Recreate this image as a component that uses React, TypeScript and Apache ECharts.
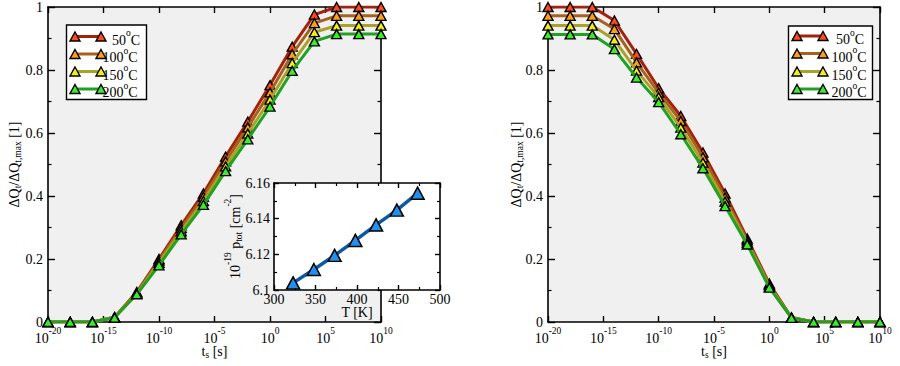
import React, { useEffect, useRef } from 'react';
import * as echarts from 'echarts';

const F = 'Liberation Serif';

// x positions: exponent of t_s (t_s = 10^exp seconds)
const tsExp = [-20, -18, -16, -14, -12, -10, -8, -6, -4, -2, 0, 2, 4, 6, 8, 10];
const tempLabels = ['50', '100', '150', '200'];

// left panel
const leftQ50 = [0, 0, 0, 0.015, 0.095, 0.2, 0.307, 0.408, 0.525, 0.636, 0.752, 0.874, 0.976, 1.0, 1.0, 1.0];
const leftQ100 = [0, 0, 0, 0.015, 0.092, 0.195, 0.298, 0.397, 0.51, 0.618, 0.729, 0.85, 0.949, 0.972, 0.972, 0.972];
const leftQ150 = [0, 0, 0, 0.014, 0.09, 0.188, 0.288, 0.384, 0.494, 0.598, 0.706, 0.822, 0.92, 0.941, 0.941, 0.941];
const leftQ200 = [0, 0, 0, 0.014, 0.088, 0.18, 0.278, 0.372, 0.479, 0.58, 0.684, 0.797, 0.891, 0.914, 0.914, 0.914];

// right panel
const rightQ50 = [1.0, 1.0, 1.0, 0.957, 0.851, 0.742, 0.654, 0.538, 0.408, 0.265, 0.122, 0.014, 0, 0, 0, 0];
const rightQ100 = [0.972, 0.972, 0.972, 0.93, 0.824, 0.728, 0.638, 0.523, 0.395, 0.259, 0.118, 0.014, 0, 0, 0, 0];
const rightQ150 = [0.941, 0.941, 0.941, 0.896, 0.798, 0.714, 0.617, 0.506, 0.382, 0.252, 0.113, 0.013, 0, 0, 0, 0];
const rightQ200 = [0.913, 0.913, 0.913, 0.866, 0.776, 0.698, 0.596, 0.488, 0.368, 0.246, 0.109, 0.013, 0, 0, 0, 0];

// inset
const insetT = [323, 348, 373, 398, 423, 448, 473];
const insetP = [6.104, 6.1115, 6.1194, 6.1278, 6.1365, 6.1448, 6.1543];

const lineColors = ['#a3220c', '#a6621c', '#aaa228', '#22a022'];
const markerColors = ['#ff4a1a', '#ff9c1a', '#f2ee1a', '#3cec2c'];

const rich: any = {
  n: { fontFamily: F, fontSize: 14, color: '#000', lineHeight: 12, padding: [5, 0, 0, 0], verticalAlign: 'top' },
  p: { fontFamily: F, fontSize: 9.5, color: '#000', lineHeight: 9, verticalAlign: 'top' },
  b: { fontFamily: F, fontSize: 9.5, color: '#000', lineHeight: 9, padding: [11, 0, 0, 0], verticalAlign: 'top' },
};
// subscript-only text (no raised part)
const richSub: any = {
  n: { fontFamily: F, fontSize: 14, color: '#000', lineHeight: 13, verticalAlign: 'top' },
  b: { fontFamily: F, fontSize: 9.5, color: '#000', lineHeight: 9, padding: [6, 0, 0, 0], verticalAlign: 'top' },
};

const axisLine = { show: true, onZero: false, lineStyle: { color: '#000', width: 1.6 } };
const tick = (len: number) => ({ show: true, inside: true, length: len, lineStyle: { color: '#000', width: 1.4 } });
const minor = (len: number) => ({ show: true, splitNumber: 2, length: len, lineStyle: { color: '#000', width: 1.2 } });

function mainX(grid: number, pos: 'top' | 'bottom') {
  const isB = pos === 'bottom';
  return {
    type: 'value', gridIndex: grid, position: pos, min: -20, max: 10, interval: 5,
    axisLine, axisTick: tick(6), splitLine: { show: false },
    axisLabel: isB
      ? { show: true, margin: 4, formatter: (v: number) => `{n|10}{p|${v}}`, rich }
      : { show: false },
    name: isB ? '{n|t}{b|s}{n| [s]}' : '',
    nameLocation: 'middle', nameGap: 22, nameMoveOverlap: false, nameTextStyle: { rich: richSub },
  };
}

function mainY(grid: number, pos: 'left' | 'right') {
  const isL = pos === 'left';
  return {
    type: 'value', gridIndex: grid, position: pos, min: 0, max: 1, interval: 0.2,
    axisLine, axisTick: tick(7), minorTick: minor(3.5), splitLine: { show: false }, minorSplitLine: { show: false },
    axisLabel: isL ? { show: true, margin: 5, fontFamily: F, fontSize: 14, color: '#000' } : { show: false },
    name: isL ? '{n|ΔQ}{b|t}{n|/ΔQ}{b|t,max}{n| [1]}' : '',
    nameLocation: 'middle', nameRotate: 90, nameGap: grid === 0 ? 34 : 32, nameMoveOverlap: false, nameTextStyle: { rich },
  };
}

function insetX(pos: 'top' | 'bottom') {
  const isB = pos === 'bottom';
  return {
    type: 'value', gridIndex: 2, position: pos, min: 300, max: 500, interval: 50, z: 6,
    axisLine, axisTick: tick(5), minorTick: minor(3), splitLine: { show: false }, minorSplitLine: { show: false },
    axisLabel: isB ? { show: true, margin: 4, fontFamily: F, fontSize: 14, color: '#000', lineHeight: 11 } : { show: false },
    name: isB ? 'T [K]' : '', nameLocation: 'middle', nameGap: 17, nameMoveOverlap: false,
    nameTextStyle: { fontFamily: F, fontSize: 14, color: '#000', lineHeight: 11 },
  };
}

function insetY(pos: 'left' | 'right') {
  const isL = pos === 'left';
  return {
    type: 'value', gridIndex: 2, position: pos, min: 6.1, max: 6.16, interval: 0.02, z: 6,
    axisLine, axisTick: tick(5), minorTick: minor(3), splitLine: { show: false }, minorSplitLine: { show: false },
    axisLabel: isL ? { show: true, margin: 4, fontFamily: F, fontSize: 14, color: '#000', lineHeight: 11 } : { show: false },
    name: isL ? '{n|10}{p|-19}{n| p}{b|tot}{n| [cm}{p|-2}{n|]}' : '',
    nameLocation: 'middle', nameRotate: 90, nameGap: 39, nameMoveOverlap: false, nameTextStyle: { rich },
  };
}

function mkSeries(vals: number[], i: number, grid: number) {
  return {
    type: 'line', xAxisIndex: grid * 2, yAxisIndex: grid * 2,
    data: tsExp.map((x, k) => [x, vals[k]]),
    symbol: 'triangle', symbolSize: [10, 9],
    lineStyle: { color: lineColors[i], width: 3 },
    itemStyle: { color: markerColors[i], borderColor: '#000', borderWidth: 1.4 },
    z: 2 + i * 0.01,
  };
}

function legend(boxX: number, boxY: number, boxW: number, boxH: number, x1: number, x2: number, ys: number[], tx: number[]) {
  const els: any[] = [
    { type: 'rect', shape: { x: boxX, y: boxY, width: boxW, height: boxH }, style: { fill: '#fff', stroke: '#000', lineWidth: 1.4 }, z: 10 },
  ];
  ys.forEach((y, i) => {
    els.push({ type: 'line', shape: { x1, y1: y, x2, y2: y }, style: { stroke: lineColors[i], lineWidth: 3 }, z: 11 });
    [x1, x2].forEach((cx) => {
      els.push({
        type: 'polygon', shape: { points: [[cx, y - 4.5], [cx + 5, y + 4.5], [cx - 5, y + 4.5]] },
        style: { fill: markerColors[i], stroke: '#000', lineWidth: 1.4 }, z: 12,
      });
    });
    els.push({
      type: 'text', x: tx[i], y: y - 2.5, z: 12,
      style: { text: `{n|${tempLabels[i]}}{p|o}{n|C}`, rich, verticalAlign: 'middle', align: 'left' },
    });
  });
  return els;
}

export default function App() {
  const ref = useRef<HTMLDivElement>(null);
  useEffect(() => {
    if (!ref.current) return;
    const chart = echarts.init(ref.current, undefined, { renderer: 'svg' });
    const gridBase = { show: true, borderWidth: 0, containLabel: false, outerBoundsMode: 'none' };
    const option: any = {
      animation: false,
      backgroundColor: '#fff',
      textStyle: { fontFamily: F },
      grid: [
        { ...gridBase, left: 48, top: 7, width: 333, height: 315, backgroundColor: '#f0f0f0', z: 0 },
        { ...gridBase, left: 548, top: 7, width: 332, height: 315, backgroundColor: '#f0f0f0', z: 0 },
        { ...gridBase, left: 274, top: 183, width: 166, height: 107, backgroundColor: '#fff', z: 5 },
      ],
      xAxis: [mainX(0, 'bottom'), mainX(0, 'top'), mainX(1, 'bottom'), mainX(1, 'top'), insetX('bottom'), insetX('top')],
      yAxis: [mainY(0, 'left'), mainY(0, 'right'), mainY(1, 'left'), mainY(1, 'right'), insetY('left'), insetY('right')],
      series: [
        mkSeries(leftQ50, 0, 0), mkSeries(leftQ100, 1, 0), mkSeries(leftQ150, 2, 0), mkSeries(leftQ200, 3, 0),
        mkSeries(rightQ50, 0, 1), mkSeries(rightQ100, 1, 1), mkSeries(rightQ150, 2, 1), mkSeries(rightQ200, 3, 1),
        {
          type: 'line', xAxisIndex: 4, yAxisIndex: 4, z: 7,
          data: insetT.map((t, k) => [t, insetP[k]]),
          symbol: 'triangle', symbolSize: [13, 12],
          lineStyle: { color: '#0d5aa3', width: 3.5 },
          itemStyle: { color: '#2290ee', borderColor: '#000', borderWidth: 1.5 },
        },
      ],
      graphic: [
        ...legend(66.5, 25, 80, 74.5, 75, 101, [36.5, 54, 71.5, 89], [112, 102.5, 102.5, 102.5]),
        ...legend(788.5, 26, 84, 73.5, 797, 823, [36, 53.5, 71.5, 89], [836, 831.5, 831.5, 831.5]),
      ],
    };
    chart.setOption(option);
    return () => chart.dispose();
  }, []);
  return <div ref={ref} style={{ position: 'absolute', left: 0, top: 0, width: 900, height: 366 }} />;
}
